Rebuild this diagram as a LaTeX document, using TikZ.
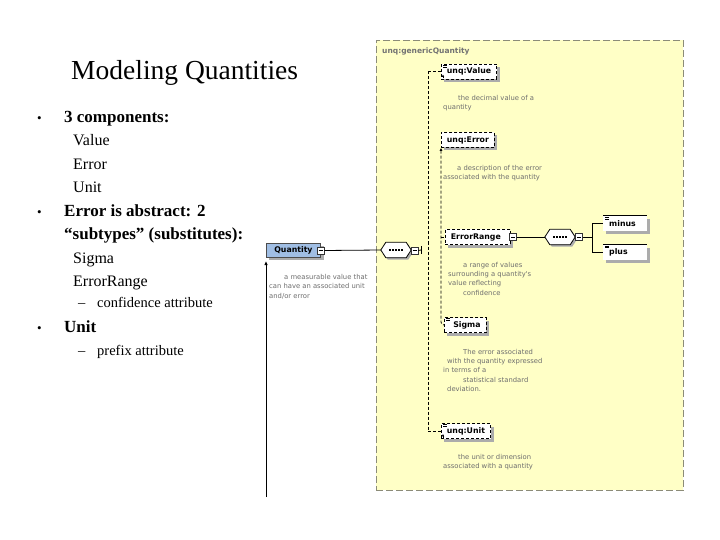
\documentclass[tikz,border=0pt]{standalone}
\usepackage{fontspec}
\setmainfont{Liberation Serif}
\newfontfamily\dgfont{DejaVu Sans}
\usetikzlibrary{shadows,arrows.meta}
\definecolor{panelyellow}{RGB}{255,255,198}
\definecolor{panelborder}{RGB}{140,140,120}
\definecolor{qblue}{RGB}{160,190,228}
\definecolor{shadowgray}{RGB}{172,172,172}
\definecolor{desccol}{RGB}{110,110,110}
\tikzset{
  titletext/.style={font=\fontsize{27.5}{30}\selectfont, anchor=base west, inner sep=0pt},
  bul/.style={font=\fontsize{13}{15}\selectfont, anchor=base west, inner sep=0pt},
  lvlone/.style={font=\bfseries\fontsize{17}{20}\selectfont, anchor=base west, inner sep=0pt},
  lvltwo/.style={font=\fontsize{16}{19}\selectfont, anchor=base west, inner sep=0pt},
  lvlthree/.style={font=\fontsize{14.5}{17}\selectfont, anchor=base west, inner sep=0pt},
  panel/.style={fill=panelyellow, draw=panelborder, dash pattern=on 7pt off 3pt, line width=0.7pt},
  grouplabel/.style={font=\dgfont\bfseries\fontsize{7.5}{9}\selectfont, text=black!55, anchor=west, inner sep=0pt},
  elem/.style={draw=black, dash pattern=on 3pt off 2pt, line width=0.8pt, fill=white,
    font=\dgfont\bfseries\fontsize{7.8}{9}\selectfont, inner xsep=5.5pt, inner ysep=0pt,
    minimum height=15pt, anchor=west,
    drop shadow={shadow xshift=3pt, shadow yshift=-3pt, fill=shadowgray, opacity=1}},
  qbox/.style={draw=black!70, line width=0.7pt, fill=qblue,
    font=\dgfont\bfseries\fontsize{7.8}{9}\selectfont, inner xsep=8pt, inner ysep=0pt,
    minimum height=14pt, anchor=west,
    drop shadow={shadow xshift=3pt, shadow yshift=-3pt, fill=shadowgray, opacity=1}},
  attr/.style={fill=white, font=\dgfont\bfseries\fontsize{7.8}{9}\selectfont,
    text width=32pt, align=left, inner xsep=6pt, inner ysep=0pt, minimum height=15pt, anchor=west,
    drop shadow={shadow xshift=3pt, shadow yshift=-3pt, fill=shadowgray, opacity=1}},
  minusbox/.style={draw=black!80, line width=0.6pt, fill=white, minimum size=7pt, inner sep=0pt,
    path picture={\draw[black, line width=0.6pt] ([xshift=1.5pt]path picture bounding box.west) -- ([xshift=-1.5pt]path picture bounding box.east);}},
  seqnode/.style={minimum width=30pt, minimum height=15pt, inner sep=0pt},
  desc/.style={font=\dgfont\fontsize{6.8}{9.3}\selectfont, text=desccol, anchor=base west, inner sep=0pt, align=left},
  conn/.style={draw=black, line width=0.8pt},
  dline/.style={draw=black, line width=0.8pt, dash pattern=on 3pt off 2pt},
  eqmark/.style={draw=black, line width=0.5pt},
}
\newcommand\drawOcta[1]{%
  \fill[shadowgray] ([shift={(2pt,-2pt)}]#1.west) -- ([shift={(7pt,-2pt)}]#1.north west) -- ([shift={(-3pt,-2pt)}]#1.north east) -- ([shift={(2pt,-2pt)}]#1.east) -- ([shift={(-3pt,-2pt)}]#1.south east) -- ([shift={(7pt,-2pt)}]#1.south west) -- cycle;
  \draw[black, line width=0.8pt, fill=white] (#1.west) -- ([xshift=5pt]#1.north west) -- ([xshift=-5pt]#1.north east) -- (#1.east) -- ([xshift=-5pt]#1.south east) -- ([xshift=5pt]#1.south west) -- cycle;
  \draw[black, line width=1.3pt, dash pattern=on 1.8pt off 1.2pt] ([xshift=-7pt]#1.center) -- ([xshift=7pt]#1.center);
}
\newcommand\eqMark[1]{%
  \draw[eqmark] ([shift={(2pt,-1.5pt)}]#1.north west) -- ++(4pt,0pt);
  \draw[eqmark] ([shift={(2pt,-3.3pt)}]#1.north west) -- ++(4pt,0pt);
}
\begin{document}
\begin{tikzpicture}[x=1pt,y=-1pt]
\useasboundingbox (0,0) rectangle (720,540);
\fill[white] (0,0) rectangle (720,540);

% ---------- left text ----------
\node[titletext] (title) at (71,80) {Modeling Quantities};
\node[bul] (b1) at (37,123) {•};
\node[lvlone] (t1) at (64,123) {3 components:};
\node[lvltwo] (t1a) at (73,146) {Value};
\node[lvltwo] (t1b) at (73,170) {Error};
\node[lvltwo] (t1c) at (73,193) {Unit};
\node[bul] (b2) at (37,217) {•};
\node[lvlone] (t2) at (64,217) {Error is abstract: 2};
\node[lvlone] (t2x) at (64,240) {“subtypes” (substitutes):};
\node[lvltwo] (t2a) at (73,263) {Sigma};
\node[lvltwo] (t2b) at (73,286) {ErrorRange};
\node[lvlthree] (d1) at (78,307) {–};
\node[lvlthree] (t2c) at (97,307) {confidence attribute};
\node[bul] (b3) at (37,332) {•};
\node[lvlone] (t3) at (64,332) {Unit};
\node[lvlthree] (d2) at (78,355) {–};
\node[lvlthree] (t3a) at (97,355) {prefix attribute};

% ---------- panel ----------
\node[panel, minimum width=307pt, minimum height=450pt, inner sep=0pt] (panel) at (529.5,265) {};
\node[grouplabel] (glabel) at (382,51) {unq:genericQuantity};

% ---------- Quantity ----------
\node[qbox] (quantity) at (266,250) {Quantity};
\node[minusbox] (qminus) at (320.5,250.5) {};
\coordinate (qtip) at (266,261);
\coordinate (qbot) at (266,497);
\draw[conn, line width=1pt, -{Latex[length=4pt,width=3.5pt]}] (qbot) -- (qtip);
\node[desc] (qdesc) at (269,298) {\hspace*{15pt}a measurable value that\\can have an associated unit\\and/or error};

% ---------- sequence 1 ----------
\node[seqnode] (seq1) at (396,250) {};
\drawOcta{seq1}
\node[minusbox] (s1minus) at (414.5,250.5) {};
\coordinate (s1tick) at (421,250);
\draw[conn] (qminus.east) -- (seq1.west);
\draw[conn] (s1minus.east) -- (s1tick);
\draw[conn] ([yshift=4pt]s1tick) -- ([yshift=-4pt]s1tick);

% ---------- elements ----------
\node[elem] (value) at (441,71.5) {unq:Value};
\eqMark{value}
\node[elem] (error) at (441,140) {unq:Error};
\node[elem] (errrange) at (445,237) {ErrorRange\hspace*{4pt}};
\node[minusbox] (ermin) at (513,237) {};
\node[elem, minimum width=42pt] (sigma) at (444,325) {\hspace*{3pt}Sigma};
\eqMark{sigma}
\node[elem] (unit) at (441,431) {unq:Unit};
\eqMark{unit}

\draw[-{Latex[length=2.5pt,width=2.5pt]}, line width=0.6pt] ([shift={(2pt,1pt)}]value.south west) -- ([shift={(2pt,5pt)}]value.south west);
\draw[-{Latex[length=2.5pt,width=2.5pt]}, line width=0.6pt] ([shift={(2pt,1pt)}]unit.south west) -- ([shift={(2pt,5pt)}]unit.south west);

% trunk from the sequence
\coordinate (vtop) at (428,71.5);
\coordinate (vbot) at (428,431);
\draw[dline] (vtop) -- (vbot);
\draw[dline] (vtop) -- (value.west);
\draw[dline] (vbot) -- (unit.west);

% substitution group of Error
\coordinate (ebot) at (441,325);
\draw[dline, rounded corners=3pt, {Latex[length=3pt,width=3pt]}-] (error.south west) -- (ebot) -- (sigma.west);
\draw[dline] (error.south west |- errrange.west) -- (errrange.west);

% ---------- descriptions ----------
\node[desc] (vdesc) at (443,110) {\hspace*{15pt}the decimal value of a\\quantity};
\node[desc] (edesc) at (443,179.5) {\hspace*{14pt}a description of the error\\associated with the quantity};
\node[desc] (rdesc) at (448,295) {\hspace*{15pt}a range of values\\surrounding a quantity's\\value reflecting\\\hspace*{15pt}confidence};
\node[desc] (sdesc) at (443,391.5) {\hspace*{20pt}The error associated\\\hspace*{4pt}with the quantity expressed\\in terms of a\\\hspace*{20pt}statistical standard\\\hspace*{4pt}deviation.};
\node[desc] (udesc) at (443,468.5) {\hspace*{15pt}the unit or dimension\\associated with a quantity};

% ---------- ErrorRange content ----------
\node[seqnode] (seq2) at (560,237) {};
\drawOcta{seq2}
\node[minusbox] (s2minus) at (579,237) {};
\draw[conn] (ermin.east) -- (seq2.west);
\coordinate (br) at (592,237);
\draw[conn] (s2minus.east) -- (br);
\node[attr] (minus) at (603,223.5) {minus};
\node[attr] (plus) at (603,252) {plus};
\draw[conn, line width=0.6pt] (minus.north west) -- (minus.north east);
\draw[conn, line width=0.6pt] (plus.north west) -- (plus.north east);
\eqMark{minus}
\eqMark{plus}
\draw[conn] (br |- minus.west) -- (br |- plus.west);
\draw[conn] (br |- minus.west) -- (minus.west);
\draw[conn] (br |- plus.west) -- (plus.west);
\end{tikzpicture}
\end{document}
